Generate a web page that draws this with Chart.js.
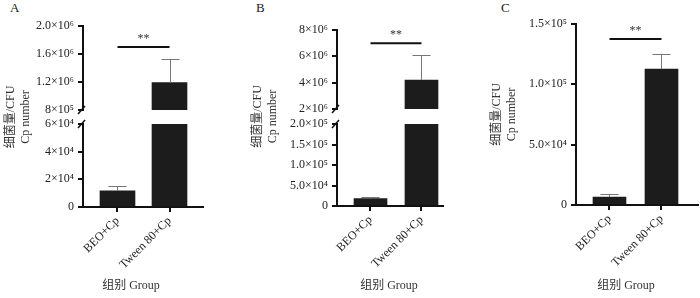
<!DOCTYPE html>
<html>
<head>
<meta charset="utf-8">
<script src="https://cdn.jsdelivr.net/npm/chart.js@4.4.1/dist/chart.umd.min.js"></script>
<style>
  body { margin: 0; width: 700px; height: 298px; background: #fff; position: relative; overflow: hidden; }
  canvas { position: absolute; top: 0; }
  .tag { position: absolute; top: 0; font: 13px 'Liberation Serif', serif; color: #222; }
</style>
</head>
<body>
<div class="tag" style="left:10px">A</div>
<div class="tag" style="left:256px">B</div>
<div class="tag" style="left:501px">C</div>
<canvas id="chartA" width="210" height="298" style="left:0px"></canvas>
<canvas id="chartB" width="201" height="298" style="left:247px"></canvas>
<canvas id="chartC" width="214" height="298" style="left:486px"></canvas>
<script>
// groups on the x axis
const categories = ['BEO+Cp', 'Tween 80+Cp'];
const xTitle = '组别 Group';
const yTitleLines = ['细菌量/CFU', 'Cp number'];

// panel A (broken y axis)
const meanA = [11600, 1190000];
const sdA = [3600, 340000];
const lowTicksA = [0, 20000, 40000, 60000];
const lowLabelsA = ['0', '2×10⁴', '4×10⁴', '6×10⁴'];
const highTicksA = [800000, 1200000, 1600000, 2000000];
const highLabelsA = ['8×10⁵', '1.2×10⁶', '1.6×10⁶', '2.0×10⁶'];
const sigA = 1700000;

// panel B (broken y axis)
const meanB = [18000, 4200000];
const sdB = [3000, 1900000];
const lowTicksB = [0, 50000, 100000, 150000, 200000];
const lowLabelsB = ['0', '5.0×10⁴', '1.0×10⁵', '1.5×10⁵', '2.0×10⁵'];
const highTicksB = [2000000, 4000000, 6000000, 8000000];
const highLabelsB = ['2×10⁶', '4×10⁶', '6×10⁶', '8×10⁶'];
const sigB = 7000000;

// panel C
const meanC = [6600, 112700];
const sdC = [2500, 12300];
const ticksC = [0, 50000, 100000, 150000];
const labelsC = ['0', '5.0×10⁴', '1.0×10⁵', '1.5×10⁵'];
const sigC = 137500;

const FONT = "'Liberation Serif', 'Noto Sans CJK SC', serif";
Chart.defaults.font.family = FONT;
Chart.defaults.font.size = 12;
Chart.defaults.color = '#222';

const INK = '#111';
const BAR = '#1c1c1c';

function yAxis(values, labels, w, extra) {
  return Object.assign({
    type: 'linear',
    position: 'left',
    min: values[0],
    max: values[values.length - 1],
    afterBuildTicks: a => { a.ticks = values.map(v => ({ value: v })); },
    afterFit: a => { a.width = w; a.paddingTop = 0; a.paddingBottom = 0; },
    ticks: { padding: 4, autoSkip: false, callback: v => labels[values.indexOf(v)] },
    grid: { drawOnChartArea: false, tickLength: 5, color: INK, lineWidth: 2 },
    border: { color: INK, width: 2 }
  }, extra);
}

function annotations(means, sds, highMin, sig, titleX) {
  return {
    id: 'annot',
    afterDraw(chart) {
      const ctx = chart.ctx;
      const x = chart.scales.x;
      const low = chart.scales.y;
      const high = chart.scales.y2;
      const pick = v => (high && v >= highMin) ? high : low;
      ctx.save();
      // error bars (upper only)
      ctx.strokeStyle = '#777';
      ctx.lineWidth = 1;
      means.forEach((m, i) => {
        const px = Math.round(x.getPixelForValue(i)) + 0.5;
        const top = m + sds[i];
        const y0 = pick(m).getPixelForValue(m);
        const y1 = Math.round(pick(top).getPixelForValue(top)) + 0.5;
        ctx.beginPath();
        ctx.moveTo(px, y0);
        ctx.lineTo(px, y1);
        ctx.moveTo(px - 9, y1);
        ctx.lineTo(px + 9, y1);
        ctx.stroke();
      });
      // significance bracket
      const sy = (high || low).getPixelForValue(sig);
      const x0 = x.getPixelForValue(0);
      const x1 = x.getPixelForValue(1);
      ctx.strokeStyle = INK;
      ctx.lineWidth = 2;
      ctx.beginPath();
      ctx.moveTo(x0, sy);
      ctx.lineTo(x1, sy);
      ctx.stroke();
      ctx.fillStyle = '#333';
      ctx.font = '12px ' + FONT;
      ctx.textAlign = 'center';
      ctx.textBaseline = 'alphabetic';
      ctx.fillText('**', (x0 + x1) / 2, sy - 5);
      // x axis title
      ctx.textBaseline = 'middle';
      ctx.fillText(xTitle, titleX, 286);
      // axis break marks
      if (high) {
        const ax = low.right;
        ctx.strokeStyle = INK;
        ctx.lineWidth = 1.5;
        [high.bottom, low.top].forEach(yy => {
          ctx.beginPath();
          ctx.moveTo(ax - 5, yy + 4);
          ctx.lineTo(ax + 2, yy - 4);
          ctx.stroke();
        });
      }
      ctx.restore();
    }
  };
}

function drawPanel(id, means, sds, lowT, lowL, highT, highL, sig, L) {
  const broken = !!highT;
  const lowMax = lowT[lowT.length - 1];
  const highMin = broken ? highT[0] : Infinity;
  const barStyle = { backgroundColor: BAR, borderWidth: 0, barThickness: L.barW, grouped: false };
  const datasets = [Object.assign({
    data: means.map((m, i) => ({ x: i, y: Math.min(m, lowMax) })),
    yAxisID: 'y'
  }, barStyle)];
  if (broken) {
    datasets.push(Object.assign({
      data: means.map((m, i) => ({ x: i, y: m > highMin ? [highMin, m] : null })),
      yAxisID: 'y2'
    }, barStyle));
  }
  const yTitle = {
    display: true,
    text: yTitleLines,
    color: '#333',
    font: { size: 12 },
    padding: { top: 4, bottom: 0 }
  };
  const scales = {
    x: {
      type: 'linear',
      position: 'bottom',
      offset: false,
      min: L.xMin,
      max: L.xMax,
      afterBuildTicks: a => { a.ticks = categories.map((c, i) => ({ value: i })); },
      afterFit: a => { a.height = L.xH; a.paddingLeft = 0; a.paddingRight = 0; },
      ticks: { callback: v => categories[v], minRotation: 45, maxRotation: 45, padding: 2, autoSkip: false },
      grid: { offset: false, drawOnChartArea: false, tickLength: 5, color: INK, lineWidth: 2 },
      border: { color: INK, width: 2 }
    },
    y: yAxis(lowT, lowL, L.axisW, broken ? { stack: 'brk', stackWeight: L.weights[2] } : { title: yTitle })
  };
  if (broken) {
    scales.gap = {
      type: 'linear', position: 'left', stack: 'brk', stackWeight: L.weights[1],
      min: 0, max: 1,
      ticks: { display: false },
      grid: { display: false },
      border: { display: false },
      title: yTitle,
      afterFit: a => { a.width = L.axisW; a.paddingTop = 0; a.paddingBottom = 0; }
    };
    scales.y2 = yAxis(highT, highL, L.axisW, { stack: 'brk', stackWeight: L.weights[0] });
  }
  return new Chart(document.getElementById(id), {
    type: 'bar',
    data: { datasets },
    options: {
      responsive: false,
      animation: false,
      layout: { padding: { top: L.top, right: L.right, left: 0, bottom: 0 } },
      plugins: { legend: { display: false }, tooltip: { enabled: false } },
      scales
    },
    plugins: [annotations(means, sds, highMin, sig, L.titleX)]
  });
}

drawPanel('chartA', meanA, sdA, lowTicksA, lowLabelsA, highTicksA, highLabelsA, sigA,
  { axisW: 83, top: 26, right: 7, xMin: -0.663, xMax: 1.644, barW: 35, xH: 91, weights: [84, 14, 83], titleX: 131 });
drawPanel('chartB', meanB, sdB, lowTicksB, lowLabelsB, highTicksB, highLabelsB, sigB,
  { axisW: 90, top: 30, right: 5, xMin: -0.657, xMax: 1.422, barW: 33, xH: 92, weights: [79, 15, 82], titleX: 142 });
drawPanel('chartC', meanC, sdC, ticksC, labelsC, null, null, sigC,
  { axisW: 90, top: 24, right: 2, xMin: -0.644, xMax: 1.702, barW: 33, xH: 93, weights: null, titleX: 140 });
</script>
</body>
</html>
